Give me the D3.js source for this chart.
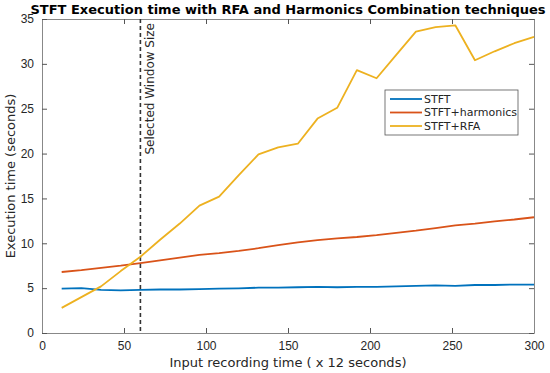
<!DOCTYPE html>
<html>
<head>
<meta charset="utf-8">
<script src="https://cdn.jsdelivr.net/npm/d3@7"></script>
<style>
  body { margin: 0; background: #fff; }
  svg { font-family: "DejaVu Sans", sans-serif; }
</style>
</head>
<body>
<div id="chart"></div>
<script>
// input recording time (x 12 seconds)
const xValues = [12, 24, 36, 48, 60, 72, 84, 96, 108, 120, 132, 144, 156, 168, 180, 192, 204, 216, 228, 240, 252, 264, 276, 288, 300];
const stft = [4.95, 5.0, 4.8, 4.75, 4.8, 4.85, 4.85, 4.9, 4.95, 4.98, 5.05, 5.05, 5.1, 5.15, 5.1, 5.15, 5.15, 5.2, 5.25, 5.3, 5.25, 5.35, 5.35, 5.4, 5.4];
const stftHarmonics = [6.8, 7.0, 7.25, 7.5, 7.8, 8.1, 8.4, 8.7, 8.9, 9.15, 9.45, 9.8, 10.1, 10.35, 10.55, 10.7, 10.9, 11.15, 11.4, 11.7, 12.0, 12.2, 12.45, 12.65, 12.9];
const stftRfa = [2.8, 4.0, 5.2, 6.9, 8.5, 10.4, 12.2, 14.2, 15.2, 17.6, 19.9, 20.7, 21.1, 23.9, 25.1, 29.3, 28.4, 31.0, 33.6, 34.1, 34.3, 30.4, 31.4, 32.3, 33.0];
const seriesNames = ["STFT", "STFT+harmonics", "STFT+RFA"];
const xTicks = [0, 50, 100, 150, 200, 250, 300];
const yTicks = [0, 5, 10, 15, 20, 25, 30, 35];
const windowSize = 60;

const width = 550, height = 373;
const margin = { top: 19, right: 16, bottom: 40, left: 42 };
const colors = ["#0072BD", "#D95319", "#EDB120"];
const axisGray = "#262626";

const svg = d3.select("#chart").append("svg")
  .attr("width", width)
  .attr("height", height);

const x = d3.scaleLinear().domain([0, 300]).range([margin.left, width - margin.right]);
const y = d3.scaleLinear().domain([0, 35]).range([height - margin.bottom, margin.top]);

// axes (matlab style box, ticks inside)
const tickLen = 5;
svg.append("g")
  .attr("transform", `translate(0,${y(0)})`)
  .call(d3.axisBottom(x).tickValues(xTicks).tickSizeInner(-tickLen).tickSizeOuter(0).tickPadding(8))
  .call(g => g.select(".domain").attr("stroke", "#888"))
  .call(g => g.selectAll(".tick line").attr("stroke", "#555"))
  .call(g => g.selectAll("text").attr("fill", axisGray).style("font-size", "12px"));

svg.append("g")
  .attr("transform", `translate(0,${y(35)})`)
  .call(d3.axisTop(x).tickValues(xTicks).tickSizeInner(-tickLen).tickSizeOuter(0).tickFormat(""))
  .call(g => g.select(".domain").attr("stroke", "#888"))
  .call(g => g.selectAll(".tick line").attr("stroke", "#555"));

svg.append("g")
  .attr("transform", `translate(${x(0)},0)`)
  .call(d3.axisLeft(y).tickValues(yTicks).tickSizeInner(-tickLen).tickSizeOuter(0).tickPadding(8))
  .call(g => g.select(".domain").attr("stroke", "#888"))
  .call(g => g.selectAll(".tick line").attr("stroke", "#555"))
  .call(g => g.selectAll("text").attr("fill", axisGray).style("font-size", "12px"));

svg.append("g")
  .attr("transform", `translate(${x(300)},0)`)
  .call(d3.axisRight(y).tickValues(yTicks).tickSizeInner(-tickLen).tickSizeOuter(0).tickFormat(""))
  .call(g => g.select(".domain").attr("stroke", "#888"))
  .call(g => g.selectAll(".tick line").attr("stroke", "#555"));

// selected window size marker
svg.append("line")
  .attr("x1", x(windowSize)).attr("x2", x(windowSize))
  .attr("y1", y(35)).attr("y2", y(0))
  .attr("stroke", "#333")
  .attr("stroke-width", 1.6)
  .attr("stroke-dasharray", "4,3");

svg.append("text")
  .attr("transform", `translate(${x(windowSize) + 14},${y(35) + 4}) rotate(-90)`)
  .attr("text-anchor", "end")
  .attr("fill", axisGray)
  .style("font-size", "12px")
  .text("Selected Window Size");

// lines
const allSeries = [stft, stftHarmonics, stftRfa];
const line = d3.line()
  .x((d, i) => x(xValues[i]))
  .y(d => y(d));

allSeries.forEach((s, k) => {
  svg.append("path")
    .datum(s)
    .attr("fill", "none")
    .attr("stroke", colors[k])
    .attr("stroke-width", 1.8)
    .attr("stroke-linejoin", "round")
    .attr("d", line);
});

// legend
const legend = svg.append("g").attr("transform", "translate(385,90)");
legend.append("rect")
  .attr("width", 133).attr("height", 45)
  .attr("fill", "#fff")
  .attr("stroke", "#555")
  .attr("stroke-width", 0.8);
seriesNames.forEach((name, k) => {
  const row = legend.append("g").attr("transform", `translate(0,${9 + k * 13.5})`);
  row.append("line")
    .attr("x1", 5).attr("x2", 37)
    .attr("stroke", colors[k]).attr("stroke-width", 1.8);
  row.append("text")
    .attr("x", 39).attr("dy", "0.35em")
    .attr("fill", axisGray)
    .style("font-size", "11px")
    .text(name);
});

// title and axis labels
svg.append("text")
  .attr("x", (x(0) + x(300)) / 2).attr("y", 14)
  .attr("text-anchor", "middle")
  .attr("font-weight", "bold")
  .attr("fill", "#000")
  .style("font-size", "13px")
  .text("STFT Execution time with RFA and Harmonics Combination techniques");

svg.append("text")
  .attr("x", (x(0) + x(300)) / 2).attr("y", 367)
  .attr("text-anchor", "middle")
  .attr("fill", axisGray)
  .style("font-size", "13px")
  .text("Input recording time ( x 12 seconds)");

svg.append("text")
  .attr("transform", `translate(15,${(y(0) + y(35)) / 2}) rotate(-90)`)
  .attr("text-anchor", "middle")
  .attr("fill", axisGray)
  .style("font-size", "13px")
  .text("Execution time (seconds)");
</script>
</body>
</html>
